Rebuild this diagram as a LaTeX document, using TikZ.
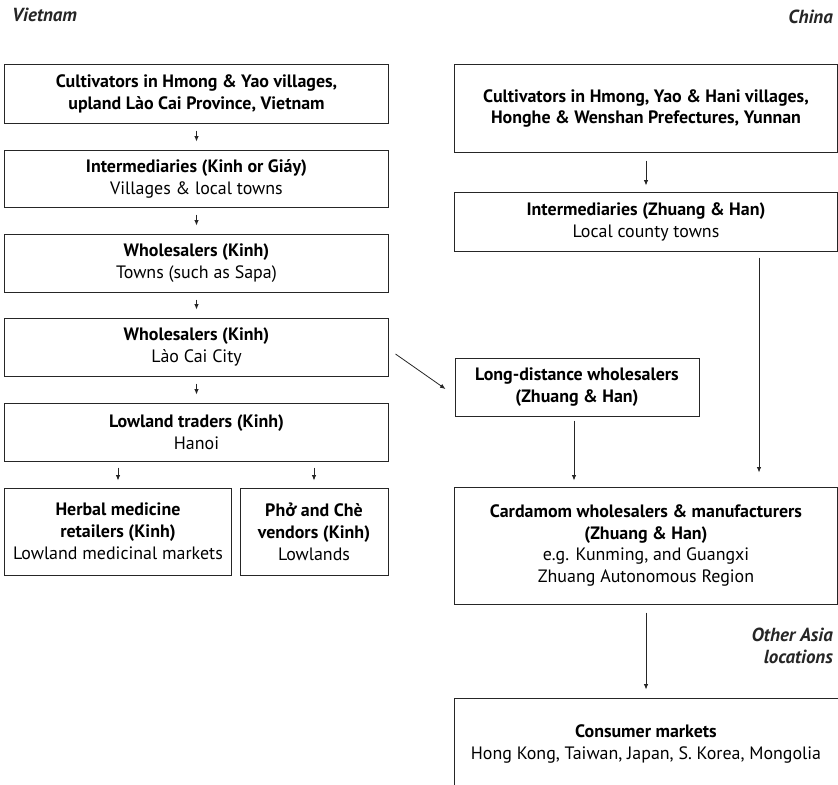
\documentclass[tikz,border=0pt]{standalone}
\usepackage{fontspec}
\setmainfont{PT Sans}
\newfontfamily\vnfont{Open Sans}
\usetikzlibrary{arrows.meta,calc}
\begin{document}
\begin{tikzpicture}[x=1bp,y=-1bp,
  box/.style={draw=black!85, line width=1bp, inner sep=0pt, align=center,
    font=\fontsize{18}{22}\selectfont},
  lbl/.style={inner sep=0pt, font=\fontsize{19}{22}\selectfont\bfseries\itshape, text=black!85},
  arr/.style={draw=black!85, line width=0.8bp, -{Latex[length=5.5bp,width=4.5bp]}}]
\useasboundingbox (0,0) rectangle (838,785);
% titles
\node[lbl, anchor=west] (vn) at (12,15) {Vietnam};
\node[lbl, anchor=east] (cn) at (833,17) {China};
% Vietnam chain
\node[box, minimum width=383bp, minimum height=58bp] (B1) at (196.5,94)
  {\textbf{Cultivators in Hmong \& Yao villages,}\\\textbf{upland Lào Cai Province, Vietnam}};
\node[box, minimum width=383bp, minimum height=57bp] (B2) at (196.5,178.5)
  {\textbf{Intermediaries (Kinh or Giáy)}\\Villages \& local towns};
\node[box, minimum width=383bp, minimum height=58bp] (B3) at (196.5,263)
  {\textbf{Wholesalers (Kinh)}\\Towns (such as Sapa)};
\node[box, minimum width=383bp, minimum height=58bp] (B4) at (196.5,347)
  {\textbf{Wholesalers (Kinh)}\\Lào Cai City};
\node[box, minimum width=383bp, minimum height=58bp] (B5) at (196.5,432)
  {\textbf{Lowland traders (Kinh)}\\Hanoi};
\node[box, minimum width=226bp, minimum height=87bp] (B6) at (118,531.5)
  {\textbf{Herbal medicine}\\\textbf{retailers (Kinh)}\\Lowland medicinal markets};
\node[box, minimum width=148bp, minimum height=87bp] (B7) at (314,531.5)
  {\textbf{Ph{\vnfont\fontsize{16.5}{22}\selectfont ở} and Chè}\\\textbf{vendors (Kinh)}\\Lowlands};
% China chain
\node[box, minimum width=383bp, minimum height=87bp] (R1) at (646,108.5)
  {\textbf{Cultivators in Hmong, Yao \& Hani villages,}\\\textbf{Honghe \& Wenshan Prefectures, Yunnan}};
\node[box, minimum width=383bp, minimum height=59bp] (R2) at (646,221.5)
  {\textbf{Intermediaries (Zhuang \& Han)}\\Local county towns};
\node[box, minimum width=244bp, minimum height=58bp] (R3) at (577,387)
  {\textbf{Long-distance wholesalers}\\\textbf{(Zhuang \& Han)}};
\node[box, minimum width=383bp, minimum height=117bp] (R4) at (646,545.5)
  {\textbf{Cardamom wholesalers \& manufacturers}\\\textbf{(Zhuang \& Han)}\\e.g. Kunming, and Guangxi\\Zhuang Autonomous Region};
\node[box, draw=none, minimum width=383bp, minimum height=88bp] (R5) at (646,744)
  {\textbf{Consumer markets}\\Hong Kong, Taiwan, Japan, S. Korea, Mongolia};
\draw[draw=black!85, line width=1bp] (R5.south west) -- ($(R5.north west)+(0,-1)$) -- ($(R5.north east)+(0,-1)$) -- (R5.south east);
\node[lbl, anchor=north east, align=right] (oa) at (833,628) {Other Asia\\locations};
% connectors
\draw[arr, shorten <=7bp, shorten >=8bp] (B1) -- (B2);
\draw[arr, shorten <=7bp, shorten >=8bp] (B2) -- (B3);
\draw[arr, shorten <=7bp, shorten >=8bp] (B3) -- (B4);
\draw[arr, shorten <=7bp, shorten >=8bp] (B4) -- (B5);
\draw[arr, shorten <=6bp, shorten >=7bp] (B6.north |- B5.south) -- (B6.north);
\draw[arr, shorten <=6bp, shorten >=7bp] (B7.north |- B5.south) -- (B7.north);
\draw[arr] ($(B4.east)+(7,7)$) -- ($(R3.west)+(-9,2)$);
\draw[arr, shorten <=8bp, shorten >=6bp] (R1) -- (R2);
\coordinate (r2a) at ($(R2.south)+(113,0)$);
\draw[arr, shorten <=6bp, shorten >=14bp] (r2a) -- (r2a |- R4.north);
\draw[arr, shorten <=4bp, shorten >=6bp] (R3.south -| 574,0) -- (R4.north -| 574,0);
\draw[arr, shorten <=8bp, shorten >=10bp] (R4) -- (R5);
\end{tikzpicture}
\end{document}
